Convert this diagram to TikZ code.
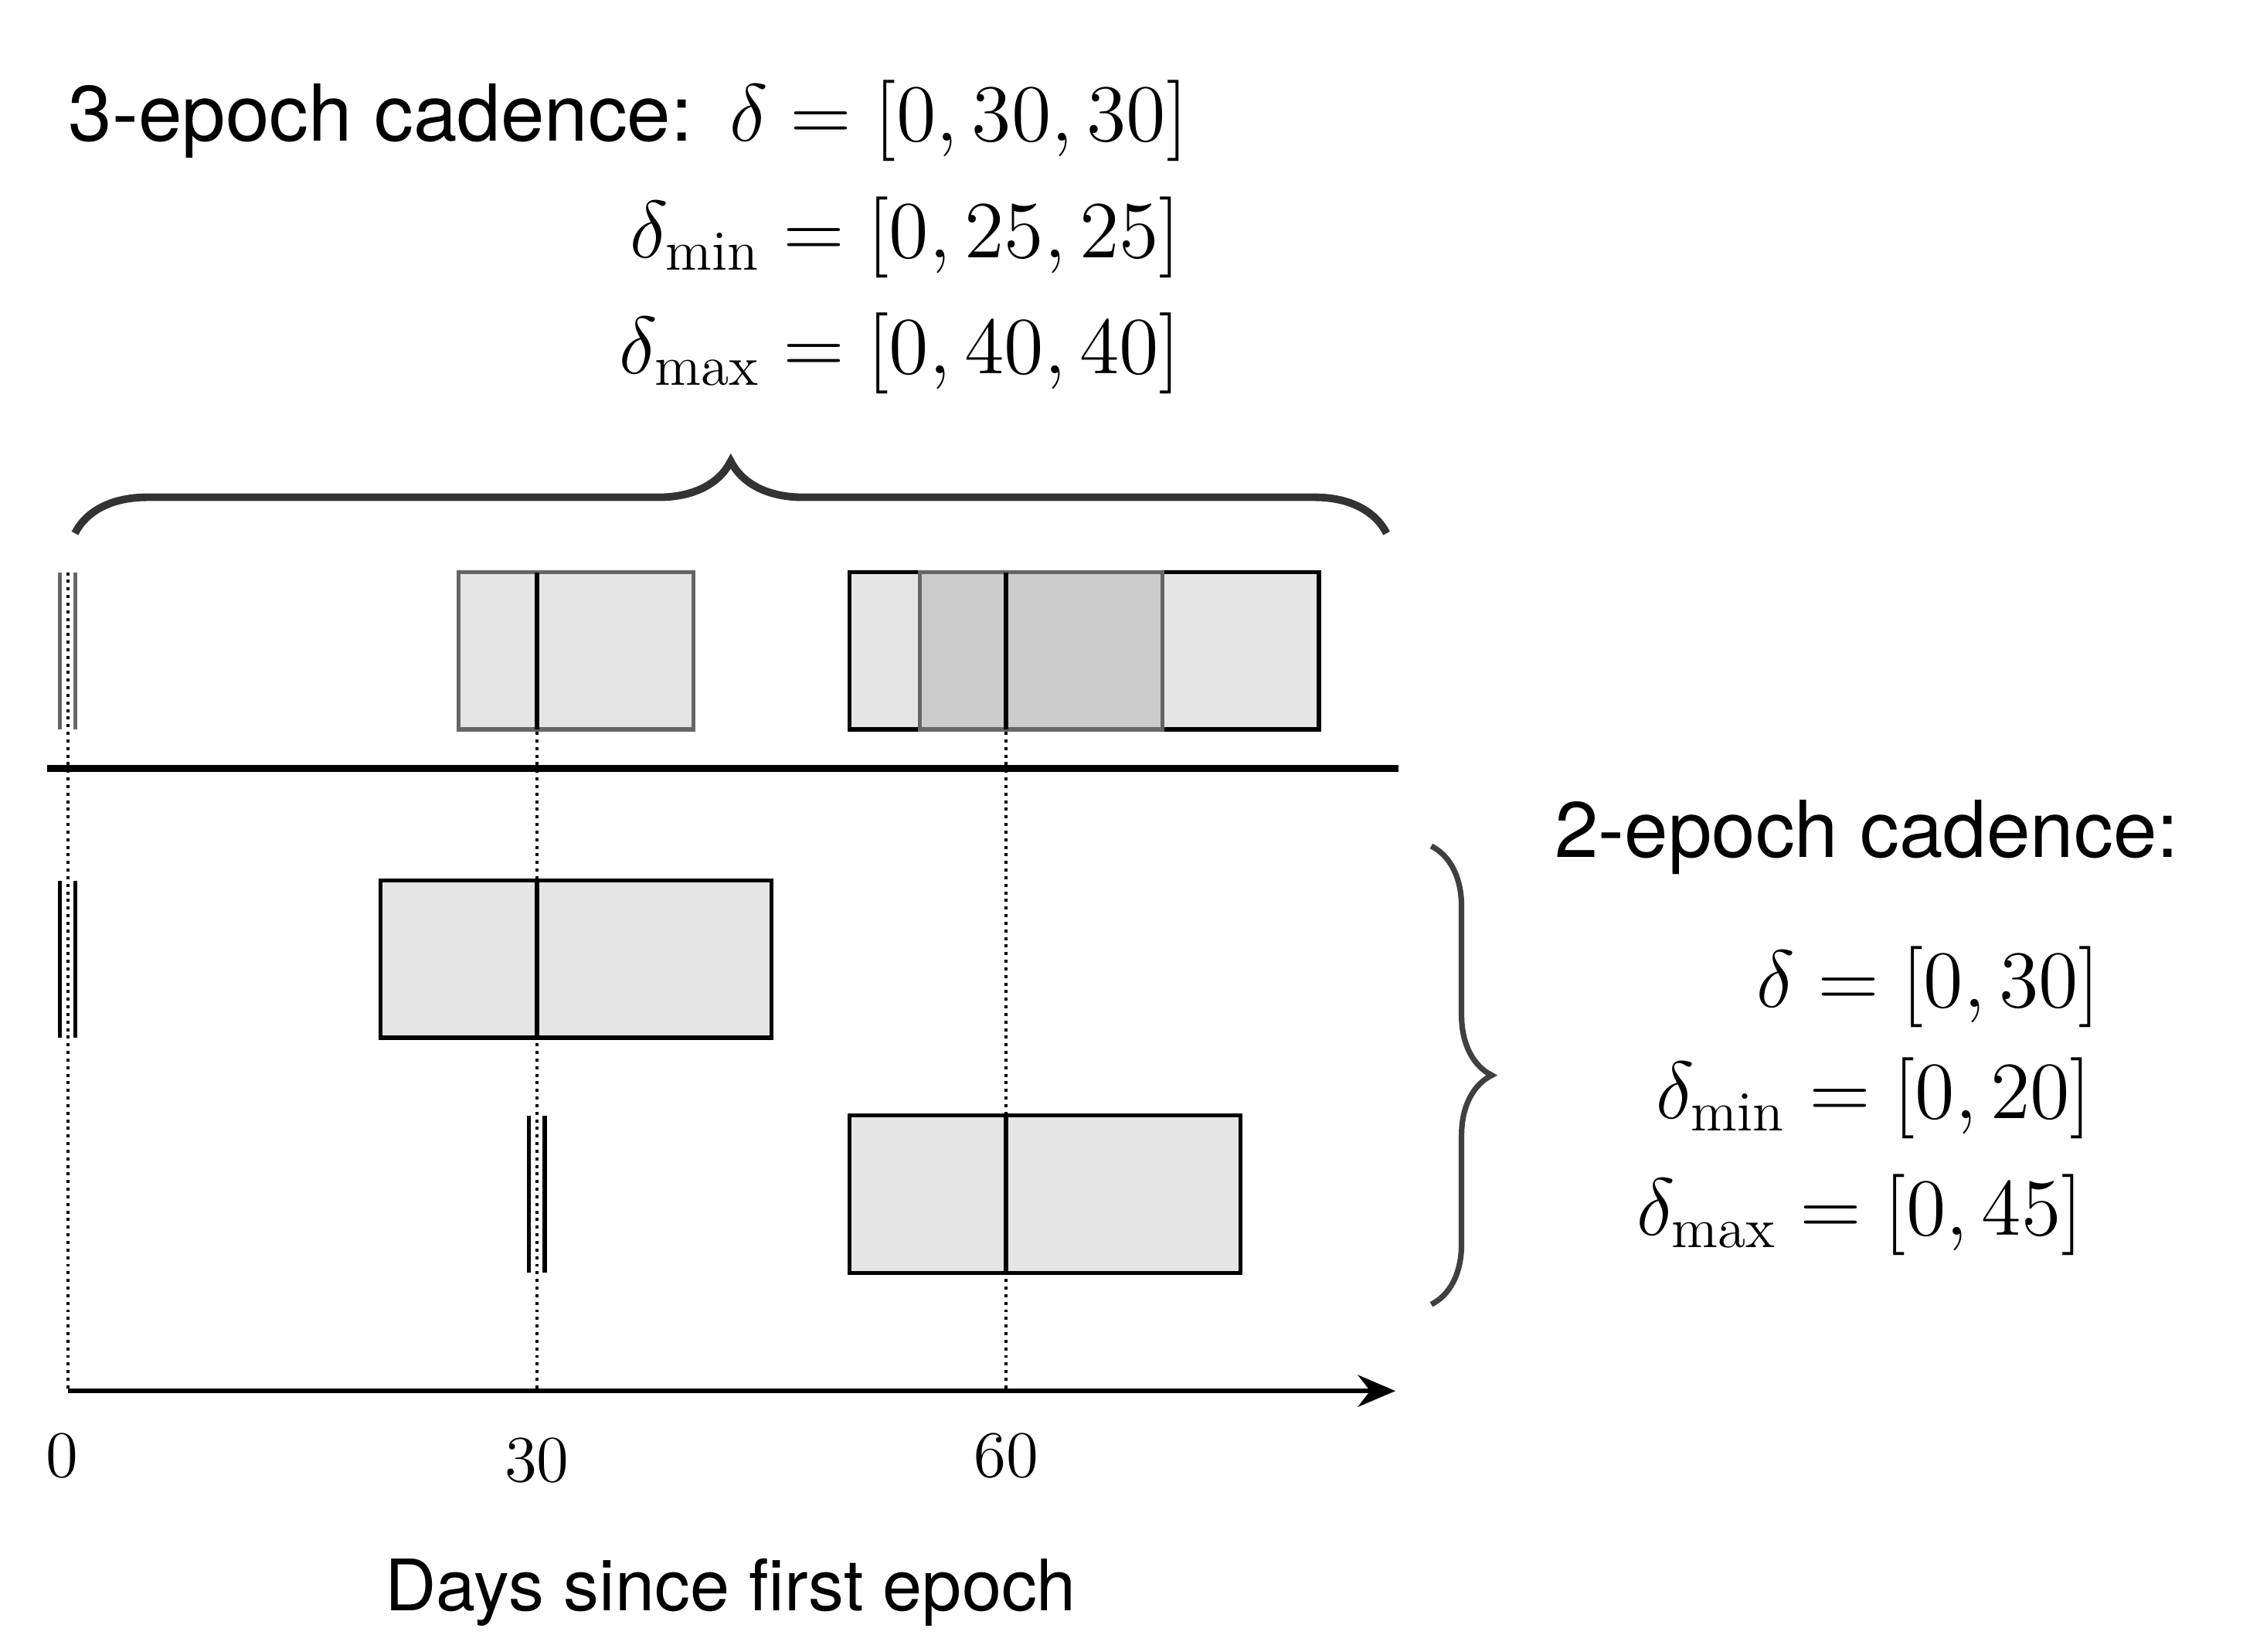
\documentclass[tikz,border=0pt]{standalone}
\usepackage{fix-cm}
\usepackage{fontspec}
\setsansfont{TeX Gyre Heros}
\usetikzlibrary{arrows.meta,decorations.pathreplacing}
\tikzset{
  >={Stealth[length=2.6mm,width=2.2mm]},
  winbox/.style={fill=black!10,draw=black!60,line width=0.8pt},
  winboxk/.style={fill=black!10,draw=black,line width=0.8pt},
  overlapbox/.style={fill=black!20,draw=black!60,line width=0.8pt},
  centreln/.style={black,line width=0.8pt},
  obsln/.style={black,line width=0.8pt},
  obsgrey/.style={black!60,line width=0.8pt},
  guide/.style={line width=0.6pt,dash pattern=on 0.6pt off 0.9pt},
  sepline/.style={line width=1.4pt},
  axisln/.style={->,line width=1pt},
  bigbrace/.style={decorate,decoration={brace,amplitude=5mm},
    line width=1.5pt,black!80},
  sidebrace/.style={decorate,decoration={brace,amplitude=4.2mm},
    line width=1.1pt,black!75},
  cadlbl/.style={font=\sffamily\fontsize{15.5}{18}\selectfont,inner sep=0pt},
  axlbl/.style={font=\sffamily\fontsize{14}{17}\selectfont,inner sep=0pt},
  deltalbl/.style={font=\fontsize{16}{19}\selectfont,inner sep=0pt},
  ticklbl/.style={font=\fontsize{13}{16}\selectfont,inner sep=0pt},
}

\begin{document}
\begin{tikzpicture}
  \useasboundingbox (-0.47,-1.81) rectangle (15.21,9.65);
  % time axis in days
  \begin{scope}[x=1.085mm]
    \coordinate (o) at (0,0);
    \coordinate (xend) at (84.9,0);
    \foreach \d in {0,30,60}
      \draw[guide] (\d,5.68) -- (\d,0);
    % 3-epoch row
    \draw[obsgrey] (-0.5,5.68) -- (-0.5,4.59) (0.5,5.68) -- (0.5,4.59);
    \draw[winbox] (25,4.59) rectangle (40,5.68);
    \draw[centreln] (30,4.59) -- (30,5.68);
    \draw[winboxk] (50,4.59) rectangle (80,5.68);
    \draw[overlapbox] (54.5,4.59) rectangle (70,5.68);
    \draw[centreln] (60,4.59) -- (60,5.68);
    \coordinate (sepL) at (-1.3,4.32);
    \coordinate (sepR) at (85.1,4.32);
    \draw[sepline] (sepL) -- (sepR);
    % 2-epoch rows
    \draw[obsln] (-0.5,3.54) -- (-0.5,2.45) (0.5,3.54) -- (0.5,2.45);
    \draw[winboxk] (20,2.45) rectangle (45,3.54);
    \draw[centreln] (30,2.45) -- (30,3.54);
    \draw[obsln] (29.5,1.91) -- (29.5,0.82) (30.5,1.91) -- (30.5,0.82);
    \draw[winboxk] (50,0.82) rectangle (75,1.91);
    \draw[centreln] (60,0.82) -- (60,1.91);
    \draw[axisln] (o) -- (xend);
    \foreach \d/\dx/\dy in {0/-0.37/0.45,30/30/0.48,60/60/0.45}
      \node[ticklbl] (t\d) at (\dx,-\dy) {\d};
  \end{scope}
  \node[axlbl] (xlbl) at (4.60,-1.40) {Days since first epoch};

  % braces
  \coordinate (bt1) at (0.05,5.95);
  \coordinate (bt2) at (9.15,5.95);
  \draw[bigbrace] (bt1) -- (bt2);
  \coordinate (bs1) at (9.46,3.78);
  \coordinate (bs2) at (9.46,0.60);
  \draw[sidebrace] (bs1) -- (bs2);

  % cadence labels
  \node[cadlbl,anchor=base west] (cad3) at (0,8.67) {3-epoch cadence:};
  \node[deltalbl,anchor=base east] (d3) at (7.78,8.67) {$\delta = [0,30,30]$};
  \node[deltalbl,anchor=base east] (d3min) at (7.73,7.86) {$\delta_{\min} = [0,25,25]$};
  \node[deltalbl,anchor=base east] (d3max) at (7.73,7.06) {$\delta_{\max} = [0,40,40]$};
  \node[cadlbl,anchor=base west] (cad2) at (10.31,3.70) {2-epoch cadence:};
  \node[deltalbl,anchor=base east] (d2) at (14.11,2.66) {$\delta = [0,30]$};
  \node[deltalbl,anchor=base east] (d2min) at (14.05,1.89) {$\delta_{\min} = [0,20]$};
  \node[deltalbl,anchor=base east] (d2max) at (13.99,1.08) {$\delta_{\max} = [0,45]$};
\end{tikzpicture}
\end{document}
